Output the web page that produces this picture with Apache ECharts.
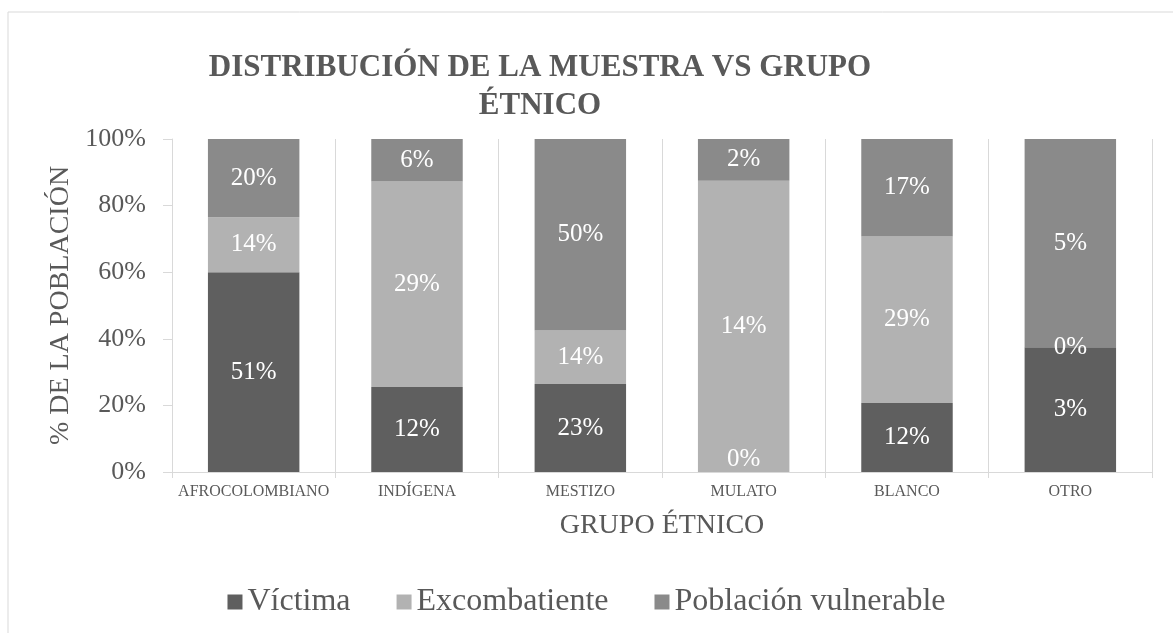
<!DOCTYPE html>
<html>
<head>
<meta charset="utf-8">
<script src="https://cdn.jsdelivr.net/npm/echarts@6/dist/echarts.min.js"></script>
<style>
html, body { margin: 0; padding: 0; background: #fff; }
#chart { width: 1173px; height: 633px; }
</style>
</head>
<body>
<div id="chart"></div>
<script>
// grupos étnicos (eje x)
var grupos = ['AFROCOLOMBIANO', 'INDÍGENA', 'MESTIZO', 'MULATO', 'BLANCO', 'OTRO'];
// valores de las etiquetas (%)
var victima = [51, 12, 23, 0, 12, 3];
var excombatiente = [14, 29, 14, 14, 29, 0];
var vulnerable = [20, 6, 50, 2, 17, 5];
var yTicks = [0, 20, 40, 60, 80, 100];

var fuente = '"Liberation Serif", "DejaVu Serif", serif';

// se normaliza cada grupo al 100%
function normalizar(arr, abajo) {
	var out = [];
	for (var i = 0; i < grupos.length; i++) {
		var total = victima[i] + excombatiente[i] + vulnerable[i];
		var item = { value: total == 0 ? 0 : arr[i] / total * 100, raw: arr[i] };
		// etiqueta de un segmento vacío en la base: se deja dentro del área
		if (abajo && arr[i] == 0) {
			item.label = { position: 'insideBottom', distance: 0 };
		}
		out.push(item);
	}
	return out;
}

function serie(nombre, arr, color, abajo) {
	return {
		name: nombre,
		type: 'bar',
		stack: 'total',
		barWidth: '56%',
		itemStyle: { color: color },
		label: {
			show: true,
			position: 'inside',
			color: '#fff',
			fontFamily: fuente,
			fontSize: 25,
			formatter: function(p) { return p.data.raw + '%'; }
		},
		data: normalizar(arr, abajo)
	};
}

var myChart = echarts.init(document.getElementById('chart'));
var option = {
	backgroundColor: '#fff',
	animation: false,
	graphic: [{
		type: 'rect',
		shape: { x: 8, y: 12, width: 1300, height: 800 },
		style: { fill: 'none', stroke: '#d9d9d9', lineWidth: 1 },
		silent: true,
		z: -10
	}],
	title: {
		text: 'DISTRIBUCIÓN DE LA MUESTRA VS GRUPO\nÉTNICO',
		left: 535,
		top: 44,
		textAlign: 'center',
		textStyle: {
			fontFamily: fuente,
			fontSize: 31,
			fontWeight: 'bold',
			color: '#595959',
			lineHeight: 38
		}
	},
	legend: {
		bottom: 10,
		left: 'center',
		itemWidth: 15,
		itemHeight: 15,
		itemGap: 46,
		icon: 'rect',
		textStyle: { fontFamily: fuente, fontSize: 32, color: '#595959', padding: [0, 0, 0, 0] },
		data: ['Víctima', 'Excombatiente', 'Población vulnerable']
	},
	grid: { left: 172, right: 21, top: 139, bottom: 161, containLabel: false },
	xAxis: {
		type: 'category',
		data: grupos,
		name: 'GRUPO ÉTNICO',
		nameLocation: 'middle',
		nameGap: 40,
		nameTextStyle: { fontFamily: fuente, fontSize: 28, color: '#595959' },
		axisLine: { lineStyle: { color: '#d9d9d9' } },
		axisTick: { show: true, interval: 0, length: 6, lineStyle: { color: '#d9d9d9' } },
		splitLine: { show: true, interval: 0, lineStyle: { color: '#d9d9d9' } },
		axisLabel: { interval: 0, fontFamily: fuente, fontSize: 16, color: '#595959', margin: 12 }
	},
	yAxis: {
		type: 'value',
		min: 0,
		max: 100,
		interval: 20,
		name: '% DE LA POBLACIÓN',
		nameLocation: 'middle',
		nameGap: 94,
		nameTextStyle: { fontFamily: fuente, fontSize: 28, color: '#595959' },
		axisLine: { show: true, lineStyle: { color: '#d9d9d9' } },
		axisTick: { show: true, length: 9, lineStyle: { color: '#d9d9d9' } },
		splitLine: { show: false },
		axisLabel: {
			fontFamily: fuente,
			fontSize: 26,
			color: '#595959',
			margin: 26,
			formatter: function(v) { return yTicks.indexOf(v) >= 0 ? v + '%' : ''; }
		}
	},
	series: [
		serie('Víctima', victima, '#5f5f5f', true),
		serie('Excombatiente', excombatiente, '#b2b2b2', false),
		serie('Población vulnerable', vulnerable, '#8a8a8a', false)
	]
};
myChart.setOption(option);
</script>
</body>
</html>
